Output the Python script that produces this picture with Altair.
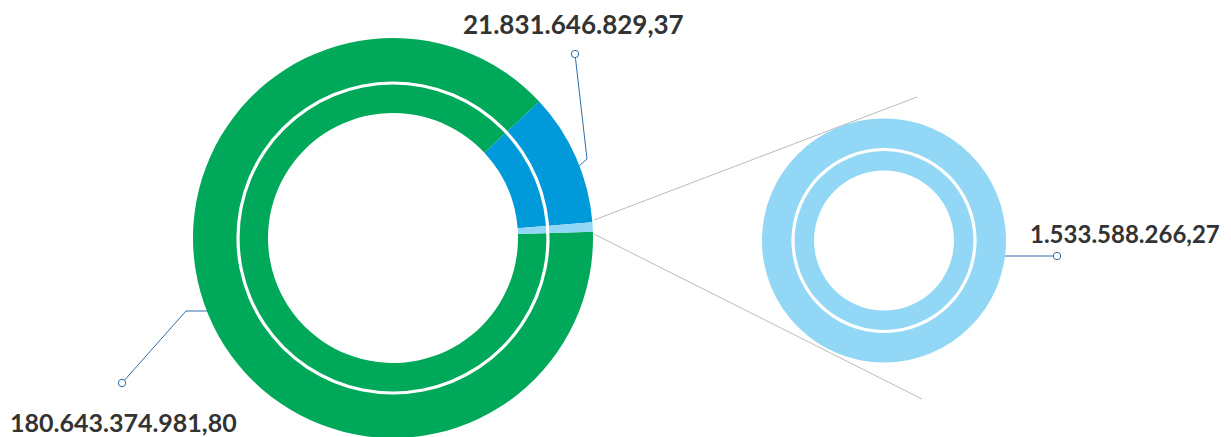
import math
import altair as alt
import pandas as pd

# ---- data ----
categories = ["Verde", "Azul", "Azul claro"]
values = [180643374981.80, 21831646829.37, 1533588266.27]
labels = ["180.643.374.981,80", "21.831.646.829,37", "1.533.588.266,27"]
colors = ["#00A859", "#0099DA", "#92D7F5"]

df = pd.DataFrame({"category": categories, "value": values, "order": [0, 1, 2]})
df_small = df[df["category"] == "Azul claro"].reset_index(drop=True)
dummy = pd.DataFrame({"d": [0]})

start = math.radians(88.2)
TWO_PI = 2 * math.pi

# layout (chart pixel coordinates)
BIG = dict(x=385, y=230, r=200, ring=155, inner=125)
SMALL = dict(x=876, y=232.5, r=122, ring=91, inner=70)

color_scale = alt.Scale(domain=categories, range=colors)

big = alt.Chart(df).mark_arc(
    x=BIG["x"], y=BIG["y"], radius=BIG["r"], radius2=BIG["inner"]
).encode(
    theta=alt.Theta("value:Q", stack=True, scale=alt.Scale(range=[start, start + TWO_PI])),
    color=alt.Color("category:N", scale=color_scale, legend=None),
    order=alt.Order("order:Q"),
)

small = alt.Chart(df_small).mark_arc(
    x=SMALL["x"], y=SMALL["y"], radius=SMALL["r"], radius2=SMALL["inner"]
).encode(
    theta=alt.Theta("value:Q", stack=True, scale=alt.Scale(range=[0, TWO_PI])),
    color=alt.Color("category:N", scale=color_scale, legend=None),
)


def ring(c):
    return alt.Chart(dummy).mark_arc(
        x=c["x"], y=c["y"], radius=c["ring"] + 1.6, radius2=c["ring"] - 1.6, color="white"
    ).encode(theta=alt.value(0), theta2=alt.value(TWO_PI))


def seg(x1, y1, x2, y2, color, w=1):
    return alt.Chart(dummy).mark_rule(color=color, strokeWidth=w).encode(
        x=alt.value(x1), y=alt.value(y1), x2=alt.value(x2), y2=alt.value(y2)
    )


def dot(x, y, color):
    return alt.Chart(dummy).mark_point(
        shape="circle", filled=True, fill="white", stroke=color, strokeWidth=1, size=55, opacity=1
    ).encode(x=alt.value(x), y=alt.value(y))


LEAD = "#2F6EAA"
GREY = "#BBBBBB"

lines = [
    seg(586, 212, 909, 89, GREY),
    seg(586, 226, 914, 391, GREY),
    seg(557, 170, 579, 151, LEAD),
    seg(579, 151, 567, 46, LEAD),
    seg(988, 248, 1049, 248, LEAD),
    seg(213, 303, 178, 303, LEAD),
    seg(178, 303, 114, 375, LEAD),
]
dots = [dot(567, 46, LEAD), dot(1049, 248, LEAD), dot(114, 375, LEAD)]

text_pos = [(2, 424, 25), (455, 26, 26), (1022, 235, 24)]
texts = []
for lab, (tx, ty, fs) in zip(labels, text_pos):
    texts.append(
        alt.Chart(pd.DataFrame({"t": [lab]})).mark_text(
            font="Lato", fontSize=fs, fontWeight="bold", color="#333333",
            align="left", baseline="alphabetic"
        ).encode(x=alt.value(tx), y=alt.value(ty), text="t:N")
    )

chart = alt.layer(
    *lines, big, ring(BIG), small, ring(SMALL), *dots, *texts
).resolve_scale(theta="independent").properties(
    width=1215, height=429, autosize=alt.AutoSizeParams(type="none"), padding=0
).configure_view(stroke=None)

chart.save("out.html", embed_options={"renderer": "svg", "actions": False})
